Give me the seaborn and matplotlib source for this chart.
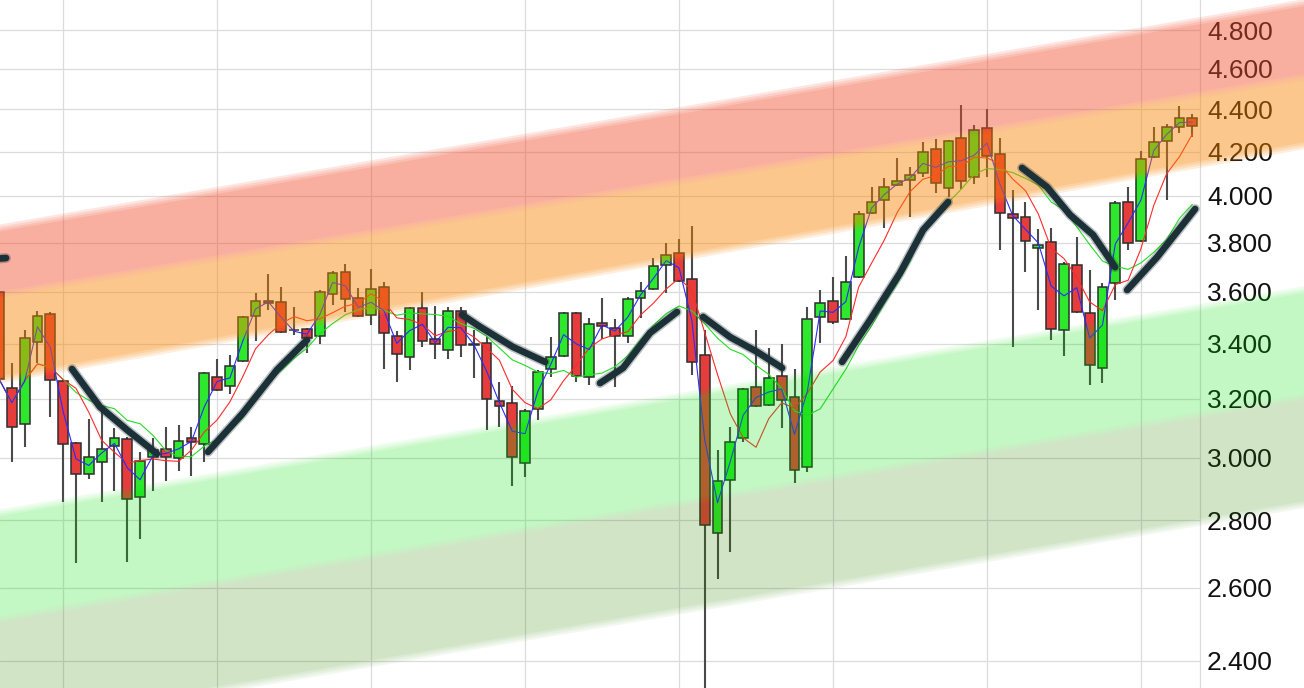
import numpy as np
import pandas as pd
import matplotlib
matplotlib.use("Agg")
import matplotlib.pyplot as plt
from matplotlib.ticker import NullLocator, NullFormatter
import seaborn as sns

# candle data, one entry per period
opens = [3.599, 3.239, 3.113, 3.407, 3.513, 3.263, 3.049, 2.947, 2.986, 3.039,
         3.062, 2.873, 3.002, 3.029, 2.999, 3.066, 3.045, 3.278, 3.246, 3.336,
         3.506, 3.564, 3.560, 3.452, 3.456, 3.429, 3.591, 3.679, 3.576, 3.510,
         3.619, 3.429, 3.351, 3.537, 3.418, 3.377, 3.525, 3.396, 3.403, 3.193,
         3.186, 2.982, 3.165, 3.307, 3.355, 3.517, 3.278, 3.479, 3.460, 3.429,
         3.576, 3.611, 3.707, 3.757, 3.651, 3.359, 2.762, 2.927, 3.066, 3.242,
         3.179, 3.282, 3.207, 2.970, 3.502, 3.564, 3.494, 3.659, 3.926, 3.982,
         4.048, 4.070, 4.102, 4.212, 4.035, 4.263, 4.084, 4.310, 4.189, 3.921,
         3.908, 3.777, 3.803, 3.452, 3.707, 3.517, 3.311, 3.635, 3.973, 3.807,
         4.175, 4.249, 4.315, 4.357]
highs = [3.610, 3.329, 3.452, 3.525, 3.521, 3.267, 3.052, 3.130, 3.161, 3.100,
         3.069, 3.019, 3.066, 3.103, 3.110, 3.103, 3.296, 3.344, 3.359, 3.506,
         3.595, 3.671, 3.619, 3.541, 3.460, 3.607, 3.683, 3.712, 3.615, 3.691,
         3.639, 3.448, 3.541, 3.599, 3.545, 3.541, 3.541, 3.452, 3.425, 3.260,
         3.246, 3.165, 3.304, 3.425, 3.521, 3.521, 3.498, 3.576, 3.494, 3.579,
         3.639, 3.736, 3.798, 3.815, 3.870, 3.452, 3.026, 3.103, 3.239, 3.452,
         3.384, 3.399, 3.307, 3.541, 3.607, 3.659, 3.744, 3.934, 4.039, 4.079,
         4.170, 4.129, 4.244, 4.258, 4.254, 4.420, 4.324, 4.401, 4.263, 4.026,
         3.973, 3.857, 3.862, 3.720, 3.823, 3.687, 3.635, 3.978, 4.039, 4.202,
         4.315, 4.329, 4.415, 4.377]
lows = [2.970, 2.986, 3.036, 3.329, 3.137, 2.858, 2.672, 2.930, 2.858, 2.892,
        2.675, 2.744, 2.892, 2.924, 2.957, 2.940, 2.986, 3.228, 3.218, 3.333,
        3.410, 3.529, 3.441, 3.433, 3.366, 3.399, 3.548, 3.521, 3.502, 3.471,
        3.307, 3.260, 3.304, 3.388, 3.344, 3.344, 3.351, 3.274, 3.093, 3.103,
        2.908, 2.937, 3.127, 3.278, 3.351, 3.260, 3.249, 3.418, 3.242, 3.403,
        3.498, 3.607, 3.595, 3.639, 3.285, 2.300, 2.626, 2.705, 3.052, 3.172,
        3.175, 3.100, 2.918, 2.953, 3.403, 3.475, 3.490, 3.655, 3.921, 3.862,
        4.044, 3.908, 4.084, 4.013, 3.995, 4.030, 4.052, 4.084, 3.769, 3.388,
        3.679, 3.529, 3.414, 3.355, 3.517, 3.249, 3.256, 3.568, 3.769, 3.803,
        4.170, 3.982, 4.286, 4.268]
closes = [3.271, 3.103, 3.422, 3.506, 3.267, 3.045, 2.947, 3.002, 3.029, 3.066,
          2.867, 2.989, 3.026, 3.002, 3.056, 3.052, 3.292, 3.232, 3.318, 3.502,
          3.564, 3.556, 3.444, 3.450, 3.422, 3.599, 3.675, 3.572, 3.506, 3.611,
          3.441, 3.362, 3.537, 3.410, 3.399, 3.525, 3.396, 3.399, 3.200, 3.175,
          3.002, 3.158, 3.296, 3.351, 3.517, 3.282, 3.475, 3.467, 3.429, 3.572,
          3.603, 3.703, 3.748, 3.643, 3.333, 2.786, 2.924, 3.052, 3.235, 3.175,
          3.274, 3.196, 2.960, 3.494, 3.556, 3.483, 3.639, 3.921, 3.973, 4.039,
          4.066, 4.093, 4.198, 4.057, 4.249, 4.066, 4.300, 4.179, 3.926, 3.904,
          3.807, 3.790, 3.456, 3.712, 3.521, 3.322, 3.619, 3.969, 3.798, 4.166,
          4.244, 4.315, 4.357, 4.320]

# price channel: edge prices at two candle positions
channel_idx = [0, 102]
red_top = [3.861, 4.950]
red_bot = [3.587, 4.559]
orange_bot = [3.267, 4.230]
green_top = [2.823, 3.611]
green_bot = [2.510, 3.207]
olive_bot = [2.231, 2.851]

# hand drawn strokes: (candle position, price)
stroke_idx = [[-0.5, 0.55, -0.5],
              [5.69, 7.87, 9.98, 12.31],
              [16.29, 19.02, 21.67, 24.0],
              [36.09, 37.49, 40.06, 42.56],
              [46.84, 48.64, 50.74, 52.84],
              [54.87, 56.98, 59.08, 61.03],
              [65.71, 67.89, 70.22, 72.02, 73.97],
              [79.73, 81.68, 83.48, 85.27, 86.98],
              [87.92, 90.26, 93.22]]
stroke_px = [[3.769, 3.736, 3.695],
             [3.307, 3.172, 3.093, 3.013],
             [3.019, 3.151, 3.304, 3.414],
             [3.510, 3.464, 3.388, 3.333],
             [3.256, 3.311, 3.441, 3.521],
             [3.502, 3.425, 3.370, 3.311],
             [3.333, 3.490, 3.675, 3.853, 3.973],
             [4.125, 4.039, 3.917, 3.832, 3.699],
             [3.607, 3.740, 3.943]]

price_ticks = [2.4, 2.6, 2.8, 3.0, 3.2, 3.4, 3.6, 3.8, 4.0, 4.2, 4.4, 4.6, 4.8]
grid_idx = [5, 17, 29, 41, 53, 65, 77, 89]

sns.set_style("white")
plt.rcParams["font.family"] = ["Liberation Sans", "DejaVu Sans"]

df = pd.DataFrame({"open": opens, "high": highs, "low": lows, "close": closes})
df["idx"] = np.arange(len(df))
df["ma_fast"] = df["close"].rolling(2, min_periods=1).mean()
df["ma_mid"] = df["close"].rolling(5, min_periods=1).mean()
df["ma_slow"] = df["close"].rolling(10, min_periods=1).mean()

W, H = 1304, 688
fig = plt.figure(figsize=(W / 100, H / 100), dpi=100)
ax_w = 1200 / W
ax = fig.add_axes([0, 0, ax_w, 1])
ax.set_yscale("log")
ylim = (2.329, 4.961)
xlim = (0.08, 93.6)
ax.set_ylim(*ylim)
ax.set_xlim(*xlim)

# grid
ax.set_yticks(price_ticks)
ax.set_yticklabels([f"{t:.3f}" for t in price_ticks])
ax.yaxis.set_minor_locator(NullLocator())
ax.yaxis.set_minor_formatter(NullFormatter())
ax.set_xticks(grid_idx)
ax.tick_params(axis="x", length=0, labelbottom=False)
ax.yaxis.tick_right()
ax.tick_params(axis="y", length=0, pad=5, labelsize=19, labelcolor="#111111")
ax.grid(True, color="#dcdcdc", linewidth=0.9)
ax.set_axisbelow(True)
for s in ["top", "left", "bottom"]:
    ax.spines[s].set_visible(False)
ax.spines["right"].set_color("#dcdcdc")
ax.spines["right"].set_linewidth(0.9)

# candles
up = df["close"] >= df["open"]
ax.vlines(df["idx"], df["low"], df["high"], color="#4a4a4a", linewidth=1.5, zorder=2)
body_lo = np.minimum(df["open"], df["close"])
body_hi = np.maximum(df["open"], df["close"])
ax.bar(df["idx"], body_hi - body_lo, bottom=body_lo, width=0.76,
       color=np.where(up, "#2de82d", "#e63c3c"), edgecolor="#2e2e2e",
       linewidth=1.1, zorder=3)

# moving averages
sns.lineplot(data=df, x="idx", y="ma_slow", ax=ax, color="#22dd22", linewidth=0.8, zorder=4)
sns.lineplot(data=df, x="idx", y="ma_mid", ax=ax, color="#ff2a2a", linewidth=0.8, zorder=4)
sns.lineplot(data=df, x="idx", y="ma_fast", ax=ax, color="#2a2aff", linewidth=0.8, zorder=4)
ax.set_xlabel("")
ax.set_ylabel("")

# overlay with the channel bands (covers price labels too) and the strokes
top = fig.add_axes([0, 0, 1, 1])
top.set_zorder(ax.get_zorder() + 1)
top.patch.set_visible(False)
top.set_yscale("log")
top.set_ylim(*ylim)
top.set_xlim(xlim[0], xlim[0] + (xlim[1] - xlim[0]) / ax_w)
top.axis("off")

# soft band edges: a few stacked layers, each slightly inset
px_log = 1 / 910.0
insets = [-3.5, -1.2, 1.2, 3.5]
bands = [(red_bot, red_top, "#f4502c", 0.45),
         (orange_bot, red_bot, "#fb8700", 0.45),
         (green_bot, green_top, "#00e100", 0.23),
         (olive_bot, green_bot, "#328800", 0.22)]
for lo, hi, col, a in bands:
    b = 1 - (1 - a) ** (1 / len(insets))
    for d in insets:
        f = np.exp(d * px_log)
        top.fill_between(channel_idx, np.array(lo) * f, np.array(hi) / f,
                         color=col, alpha=b, linewidth=0, zorder=1)

for sx, sy in zip(stroke_idx, stroke_px):
    sdf = pd.DataFrame({"x": sx, "y": sy})
    sns.lineplot(data=sdf, x="x", y="y", ax=top, sort=False, color="#1c3038",
                 linewidth=7.0, alpha=0.3, zorder=5, solid_capstyle="round")
    sns.lineplot(data=sdf, x="x", y="y", ax=top, sort=False, color="#1c3038",
                 linewidth=4.8, zorder=6, solid_capstyle="round",
                 solid_joinstyle="round")
top.set_xlabel("")
top.set_ylabel("")

fig.savefig("out.png", dpi=100)
